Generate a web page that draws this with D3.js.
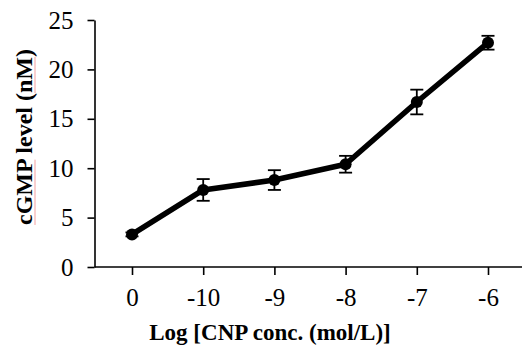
<!DOCTYPE html>
<html>
<head>
<meta charset="utf-8">
<script src="https://cdn.jsdelivr.net/npm/d3@7"></script>
<style>
  body { margin: 0; background: #fff; }
  svg { display: block; }
  svg text { font-family: "Liberation Serif", "Times New Roman", Times, "DejaVu Serif", serif; fill: #000; }
</style>
</head>
<body>
<svg id="chart" width="522" height="356"></svg>
<script>
// data
const categories = ['0', '-10', '-9', '-8', '-7', '-6'];
const cgmp = [3.3, 7.8, 8.8, 10.4, 16.7, 22.7];
const errors = [0.2, 1.1, 1.0, 0.85, 1.25, 0.7];
const yTicks = [0, 5, 10, 15, 20, 25];

const svg = d3.select('#chart');
const mLeft = 94.5, mTop = 20, mBottom = 267;

const x = d3.scalePoint().
domain(categories).
range([96.4, 523.6]).
padding(0.5);

const y = d3.scaleLinear().
domain([0, 25]).
range([mBottom, mTop]);

const xAxis = svg.append('g').
attr('transform', 'translate(0,' + mBottom + ')').
call(d3.axisBottom(x).tickSize(8).tickPadding(13).tickSizeOuter(0));
// category axis line starts at the value axis
xAxis.select('.domain').attr('d', 'M' + mLeft + ',0H522');

const yAxis = svg.append('g').
attr('transform', 'translate(' + mLeft + ',0)').
call(d3.axisLeft(y).tickValues(yTicks).tickSize(7).tickPadding(14).tickSizeOuter(0));

[xAxis, yAxis].forEach(function (g) {
  g.attr('font-family', null).attr('font-size', null);
  g.select('.domain').attr('stroke', '#000').attr('stroke-width', 1.6);
  g.selectAll('.tick line').attr('stroke', '#000').attr('stroke-width', 1.6);
  g.selectAll('.tick text').style('font-size', '25px');
});

const points = categories.map(function (c, i) {
  return { cat: c, value: cgmp[i], err: errors[i] };
});

// error bars
const bars = svg.append('g').selectAll('g').
data(points).
enter().
append('g').
attr('stroke', '#000').
attr('stroke-width', 1.8);

bars.append('line').
attr('x1', d => x(d.cat)).
attr('x2', d => x(d.cat)).
attr('y1', d => y(d.value + d.err)).
attr('y2', d => y(d.value - d.err));

bars.append('line').
attr('x1', d => x(d.cat) - 6.5).
attr('x2', d => x(d.cat) + 6.5).
attr('y1', d => y(d.value + d.err)).
attr('y2', d => y(d.value + d.err));

bars.append('line').
attr('x1', d => x(d.cat) - 6.5).
attr('x2', d => x(d.cat) + 6.5).
attr('y1', d => y(d.value - d.err)).
attr('y2', d => y(d.value - d.err));

const line = d3.line().
x(d => x(d.cat)).
y(d => y(d.value));

svg.append('path').
datum(points).
attr('d', line).
attr('fill', 'none').
attr('stroke', '#000').
attr('stroke-width', 5.5).
attr('stroke-linejoin', 'round');

svg.append('g').selectAll('circle').
data(points).
enter().
append('circle').
attr('cx', d => x(d.cat)).
attr('cy', d => y(d.value)).
attr('r', 6).
attr('fill', '#000');

// axis titles
svg.append('text').
attr('x', 270).
attr('y', 340).
attr('text-anchor', 'middle').
style('font-weight', 'bold').
style('font-size', '23px').
text('Log [CNP conc. (mol/L)]');

const titleY = 137;
const yTitle = svg.append('text').
attr('transform', 'translate(32,' + titleY + ') rotate(-90)').
attr('text-anchor', 'middle').
style('font-weight', 'bold').
style('font-size', '24px').
text('cGMP level (nM)');

// pinkish spell-check underlines under "cGMP" and "nM"
const node = yTitle.node();
const total = node.getComputedTextLength();
const marks = [[0, 4], [12, 2]].map(function (r) {
  const start = node.getSubStringLength(0, r[0]);
  return { a: start, b: start + node.getSubStringLength(r[0], r[1]) };
});
svg.append('g').
attr('transform', 'translate(35,' + titleY + ') rotate(-90)').
selectAll('line').
data(marks).
enter().
append('line').
attr('x1', d => -total / 2 + d.a).
attr('x2', d => -total / 2 + d.b).
attr('stroke', '#f2a0a0').
attr('stroke-width', 1);
</script>
</body>
</html>
